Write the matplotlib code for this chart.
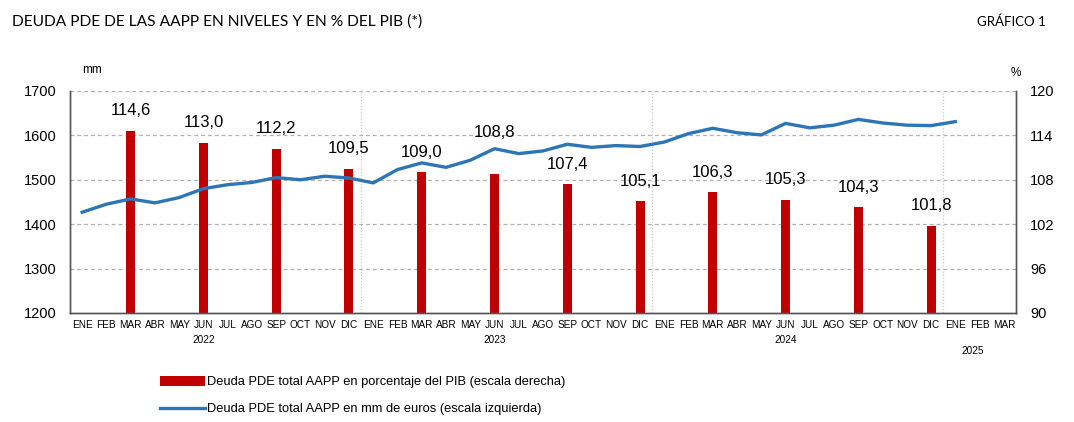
import matplotlib
matplotlib.use("Agg")
import matplotlib.pyplot as plt
from matplotlib.lines import Line2D
from matplotlib.patches import Patch
import numpy as np

# months Jan 2022 .. Mar 2025
months = ['ENE', 'FEB', 'MAR', 'ABR', 'MAY', 'JUN', 'JUL', 'AGO', 'SEP', 'OCT', 'NOV', 'DIC'] * 3 + ['ENE', 'FEB', 'MAR']
years = ['2022', '2023', '2024', '2025']

# debt in mm euros (left scale), Jan 2022 .. Jan 2025
debt_mm = [1427, 1445, 1457, 1448, 1460, 1480, 1489, 1494, 1505, 1500, 1508, 1504,
           1493, 1523, 1538, 1528, 1544, 1570, 1559, 1565, 1580, 1573, 1577, 1575,
           1585, 1604, 1616, 1606, 1601, 1627, 1617, 1623, 1636, 1628, 1623, 1622,
           1631]

# quarterly debt as % of GDP (right scale)
pct_months = ['2022-03', '2022-06', '2022-09', '2022-12',
              '2023-03', '2023-06', '2023-09', '2023-12',
              '2024-03', '2024-06', '2024-09', '2024-12']
pct_values = [114.6, 113.0, 112.2, 109.5,
              109.0, 108.8, 107.4, 105.1,
              106.3, 105.3, 104.3, 101.8]

red = '#C00000'
blue = '#2E75B6'
tick_font = ['Liberation Sans', 'DejaVu Sans']

fig = plt.figure(figsize=(10.74, 4.22), dpi=100)
ax = fig.add_axes([0.0652, 0.2583, 0.8808, 0.5261])
ax2 = ax.twinx()

x_all = np.arange(len(months))
x_line = np.arange(len(debt_mm))

def month_index(s):
    y, m = s.split('-')
    return (int(y) - 2022) * 12 + int(m) - 1

def to_right(v):
    return 90 + (v - 1200) / 500 * 30

x_bars = [month_index(s) for s in pct_months]

# bars on right axis, line on left axis drawn above
ax.set_zorder(ax2.get_zorder() + 1)
ax.patch.set_visible(False)

ax2.bar(x_bars, pct_values, width=0.37, color=red, zorder=2)
ax2.set_ylim(90, 120)
ax2.set_yticks([90, 96, 102, 108, 114, 120])

ax.plot(x_line, debt_mm, color=blue, lw=2.4, solid_joinstyle='round', zorder=3)
ax.set_ylim(1200, 1700)
ax.set_yticks([1200, 1300, 1400, 1500, 1600, 1700])
ax.set_xlim(-0.5, len(months) - 0.5)

# grid
for v in [1300, 1400, 1500, 1600, 1700]:
    ax2.axhline(to_right(v), color='#b0b0b0', lw=0.9, ls=(0, (3, 2.5)), zorder=1)
for b in [11.5, 23.5, 35.5]:
    ax2.axvline(b, color='#c8c8c8', lw=0.9, ls=(0, (1, 1.5)), zorder=1)

# bar labels, lifted above the line where they would collide with it
for xb, v in zip(x_bars, pct_values):
    line_r = to_right(debt_mm[xb])
    base = v + 1.7
    if base <= line_r <= base + 2.0:
        base = line_r + 1.2
    ax2.text(xb, base, f'{v:.1f}'.replace('.', ','), ha='center', va='bottom',
             fontsize=12, family=tick_font, color='black', zorder=4)

for a in (ax, ax2):
    a.spines['top'].set_visible(False)
    for s in ['left', 'right', 'bottom']:
        a.spines[s].set_color('#555555')
        a.spines[s].set_linewidth(1.0)
    a.tick_params(axis='both', length=0)

ax.set_xticks(x_all)
ax.set_xticklabels(months, fontsize=7.2, family=tick_font)
ax.tick_params(axis='x', pad=5)
for lbl in ax.get_yticklabels() + ax2.get_yticklabels():
    lbl.set_fontsize(10.5)
    lbl.set_family(tick_font)
ax.tick_params(axis='y', pad=10)
ax2.tick_params(axis='y', pad=10)

# year labels
for i, yr in enumerate(years[:3]):
    ax.annotate(yr, xy=(i * 12 + 5, 0), xycoords=('data', 'axes fraction'),
                xytext=(0, -15.5), textcoords='offset points', ha='center', va='top',
                fontsize=7.2, family=tick_font)
ax.annotate(years[3], xy=(36.7, 0), xycoords=('data', 'axes fraction'),
            xytext=(0, -24), textcoords='offset points', ha='center', va='top',
            fontsize=7.2, family=tick_font)

# unit labels
fig.text(92 / 1074, 1 - 70 / 422, 'mm', fontsize=8.5, family=tick_font, ha='center', va='center')
fig.text(1016 / 1074, 1 - 73 / 422, '%', fontsize=8.5, family=tick_font, ha='center', va='center')

# title
fig.text(12 / 1074, 1 - 22 / 422, 'DEUDA PDE DE LAS AAPP EN NIVELES Y EN % DEL PIB (*)',
         fontsize=11.2, family=['Lato', 'DejaVu Sans'], ha='left', va='center')
fig.text(1046 / 1074, 1 - 22 / 422, 'GRÁFICO 1', fontsize=9.5,
         family=['Lato', 'DejaVu Sans'], ha='right', va='center')

# legend
handles = [Patch(facecolor=red, edgecolor='none'),
           Line2D([0], [0], color=blue, lw=2.4)]
labels = ['Deuda PDE total AAPP en porcentaje del PIB (escala derecha)',
          'Deuda PDE total AAPP en mm de euros (escala izquierda)']
fig.legend(handles, labels, loc='upper left', bbox_to_anchor=(148 / 1074, 1 - 364 / 422),
           frameon=False, handlelength=3.5, handleheight=0.8, handletextpad=0.2,
           labelspacing=1.15, prop={'family': tick_font, 'size': 9.3})

fig.savefig('out.png', dpi=100)
